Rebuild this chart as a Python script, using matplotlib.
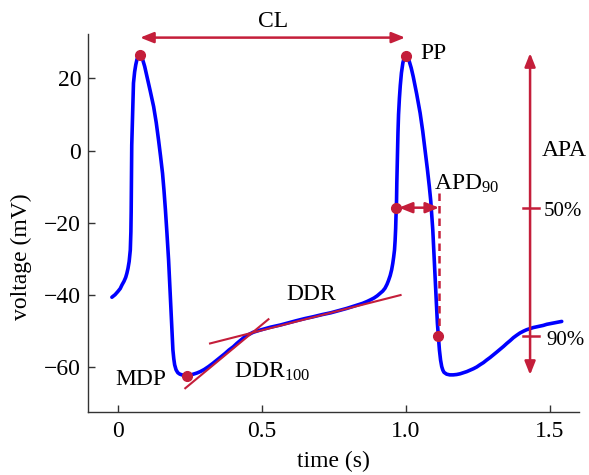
import matplotlib
matplotlib.use("Agg")
import matplotlib.pyplot as plt
from matplotlib.patches import FancyArrowPatch

plt.rcParams['font.family'] = ['Liberation Serif', 'DejaVu Serif']
plt.rcParams['mathtext.fontset'] = 'custom'
plt.rcParams['mathtext.rm'] = 'Liberation Serif'
plt.rcParams['mathtext.it'] = 'Liberation Serif:italic'

# ---- data ----
time_s = [
    -0.021, -0.010, 0.000, 0.008, 0.014, 0.021, 0.027, 0.031, 0.035, 0.039, 0.041, 0.043,
    0.045, 0.046, 0.047, 0.048, 0.050, 0.052, 0.054, 0.058, 0.062, 0.066, 0.070, 0.075,
    0.080, 0.086, 0.093, 0.101, 0.112, 0.124, 0.133, 0.141, 0.148, 0.155, 0.160, 0.165,
    0.170, 0.176, 0.180, 0.184, 0.188, 0.191, 0.194, 0.197, 0.202, 0.208, 0.215, 0.222,
    0.230, 0.240, 0.250, 0.262, 0.274, 0.286, 0.300, 0.315, 0.330, 0.344, 0.358, 0.372,
    0.386, 0.401, 0.413, 0.425, 0.437, 0.448, 0.460, 0.470, 0.482, 0.494, 0.512, 0.530,
    0.547, 0.564, 0.592, 0.620, 0.650, 0.679, 0.710, 0.740, 0.768, 0.795, 0.815, 0.835,
    0.850, 0.865, 0.878, 0.890, 0.901, 0.911, 0.920, 0.928, 0.935, 0.940, 0.946, 0.951,
    0.955, 0.958, 0.961, 0.963, 0.965, 0.966, 0.968, 0.969, 0.971, 0.973, 0.975, 0.978,
    0.981, 0.985, 0.990, 0.995, 1.000, 1.006, 1.012, 1.019, 1.026, 1.038, 1.050, 1.059,
    1.067, 1.075, 1.082, 1.087, 1.090, 1.094, 1.097, 1.100, 1.102, 1.106, 1.110, 1.114,
    1.117, 1.121, 1.125, 1.129, 1.133, 1.142, 1.153, 1.165, 1.177, 1.189, 1.200, 1.212,
    1.224, 1.235, 1.247, 1.258, 1.270, 1.281, 1.293, 1.304, 1.316, 1.328, 1.340, 1.351,
    1.363, 1.374, 1.386, 1.397, 1.409, 1.420, 1.432, 1.443, 1.455, 1.466, 1.478, 1.490,
    1.503, 1.515, 1.528, 1.542]
voltage_mV = [
    -40.6, -39.9, -39.0, -38.2, -37.2, -36.2, -35.1, -34.0, -32.6, -30.7, -29.2, -27.5,
    -22.5, -17.0, -6.3, 1.5, 7.6, 13.5, 18.7, 21.8, 23.8, 25.2, 26.1, 26.5,
    26.2, 25.2, 23.3, 20.5, 16.6, 12.2, 7.8, 3.0, -1.5, -6.3, -11.0, -16.4,
    -22.5, -30.3, -37.0, -44.1, -50.5, -55.2, -57.6, -59.3, -60.7, -61.5, -61.9, -62.1,
    -62.3, -62.4, -62.2, -61.9, -61.6, -61.2, -60.6, -59.8, -58.9, -58.0, -57.1, -56.2,
    -55.2, -54.3, -53.4, -52.6, -51.8, -51.2, -50.7, -50.3, -50.0, -49.7, -49.3, -48.9,
    -48.6, -48.3, -47.7, -47.1, -46.5, -46.0, -45.4, -44.9, -44.3, -43.7, -43.2, -42.7,
    -42.3, -41.8, -41.3, -40.8, -40.2, -39.5, -38.9, -38.1, -37.0, -36.0, -34.6, -33.0,
    -31.2, -29.5, -27.5, -25.0, -21.5, -18.5, -14.0, -9.0, -2.0, 5.0, 10.0, 14.5,
    18.0, 21.5, 24.3, 25.8, 26.3, 25.9, 24.8, 22.9, 20.5, 15.7, 10.4, 5.4,
    0.2, -5.0, -10.0, -14.0, -17.3, -22.0, -27.0, -31.5, -34.9, -41.5, -47.8, -52.2,
    -55.2, -58.0, -59.8, -60.8, -61.4, -61.9, -62.1, -62.1, -62.0, -61.8, -61.5, -61.2,
    -60.8, -60.4, -59.9, -59.3, -58.7, -58.0, -57.3, -56.6, -55.8, -55.0, -54.2, -53.4,
    -52.6, -51.8, -51.1, -50.5, -50.0, -49.6, -49.3, -49.0, -48.8, -48.6, -48.4, -48.1,
    -47.9, -47.7, -47.5, -47.3]

# marked points (t, V)
peak1 = (0.075, 26.5)
peak2 = (1.000, 26.3)
mdp = (0.240, -62.3)
apd50 = (0.966, -15.8)
apd90 = (1.113, -51.3)

# tangent lines
ddr100_t = [0.234, 0.523]
ddr100_v = [-65.8, -46.7]
ddr_t = [0.320, 0.982]
ddr_v = [-53.4, -40.0]

cl_level = 31.3
apa_x = 1.432
apa_lo, apa_hi = -62.1, 27.0
apd_line_x = 1.116

xticks = [0, 0.5, 1.0, 1.5]
xticklabels = ['0', '0.5', '1.0', '1.5']
yticks = [-60, -40, -20, 0, 20]

RED = '#C41E3A'
BLUE = '#0000FF'

fig = plt.figure(figsize=(5.89, 4.75), dpi=100)
ax = fig.add_axes([88/589, 1-411.7/475, (579-88)/589, (411.7-34)/475])
ax.set_xlim(-0.104, 1.602)
ax.set_ylim(-72.3, 32.3)

for s in ['top', 'right']:
    ax.spines[s].set_visible(False)
for s in ['left', 'bottom']:
    ax.spines[s].set_color('#333333')
    ax.spines[s].set_linewidth(1.0)

ax.set_xticks(xticks)
ax.set_xticklabels(xticklabels)
ax.set_yticks(yticks)
ax.tick_params(direction='in', length=5, width=1.0, color='#333333',
               labelsize=17, pad=5)
ax.tick_params(axis='x', pad=7)

ax.set_xlabel('time (s)', fontsize=17, labelpad=6)
ax.set_ylabel('voltage (mV)', fontsize=17)
ax.yaxis.set_label_coords(-0.115, 0.41)

# tangent lines
ax.plot(ddr100_t, ddr100_v, color=RED, lw=1.5, zorder=3)
ax.plot(ddr_t, ddr_v, color=RED, lw=1.5, zorder=3)

# AP trace
ax.plot(time_s, voltage_mV, color=BLUE, lw=2.6, solid_joinstyle='round',
        solid_capstyle='round', zorder=2)

# dashed APD90 line
ax.plot([apd_line_x, apd_line_x], [-11.7, apd90[1]], color=RED, lw=1.8,
        dashes=(3, 2), zorder=3)

def arrow(p0, p1, style='<|-|>'):
    a = FancyArrowPatch(p0, p1, arrowstyle=f'{style},head_length=0.8,head_width=0.32',
                        mutation_scale=10, color=RED, lw=1.8, shrinkA=0, shrinkB=0,
                        clip_on=False, zorder=4)
    ax.add_patch(a)

arrow((peak1[0] + 0.002, cl_level), (peak2[0] - 0.002, cl_level))
arrow((apa_x, apa_lo), (apa_x, apa_hi))
arrow((apd50[0] + 0.01, apd50[1]), (apd_line_x, apd50[1]))

# APA ticks
for lvl in [apd50[1], apd90[1]]:
    ax.plot([1.408, 1.464], [lvl, lvl], color=RED, lw=1.8, zorder=4)

# dots
for p in [peak1, peak2, mdp, apd50, apd90]:
    ax.plot(p[0], p[1], 'o', color=RED, ms=7, zorder=5, clip_on=False)

# labels
fs = 17
ax.text(0.54, 34.3, 'CL', fontsize=fs, ha='center', va='baseline', clip_on=False)
ax.text(1.050, 25.3, 'PP', fontsize=fs, ha='left', va='baseline')
ax.text(1.474, -1.5, 'APA', fontsize=fs, ha='left', va='baseline')
ax.text(1.099, -10.9, r'APD$_{\mathregular{90}}$', fontsize=fs, ha='left', va='baseline')
ax.text(1.480, -18.1, '50%', fontsize=15, ha='left', va='baseline')
ax.text(1.487, -53.8, '90%', fontsize=15, ha='left', va='baseline')
ax.text(-0.009, -64.9, 'MDP', fontsize=fs, ha='left', va='baseline')
ax.text(0.404, -62.8, r'DDR$_{\mathregular{100}}$', fontsize=fs, ha='left', va='baseline')
ax.text(0.584, -41.5, 'DDR', fontsize=fs, ha='left', va='baseline')

fig.savefig('out.png', dpi=100)
